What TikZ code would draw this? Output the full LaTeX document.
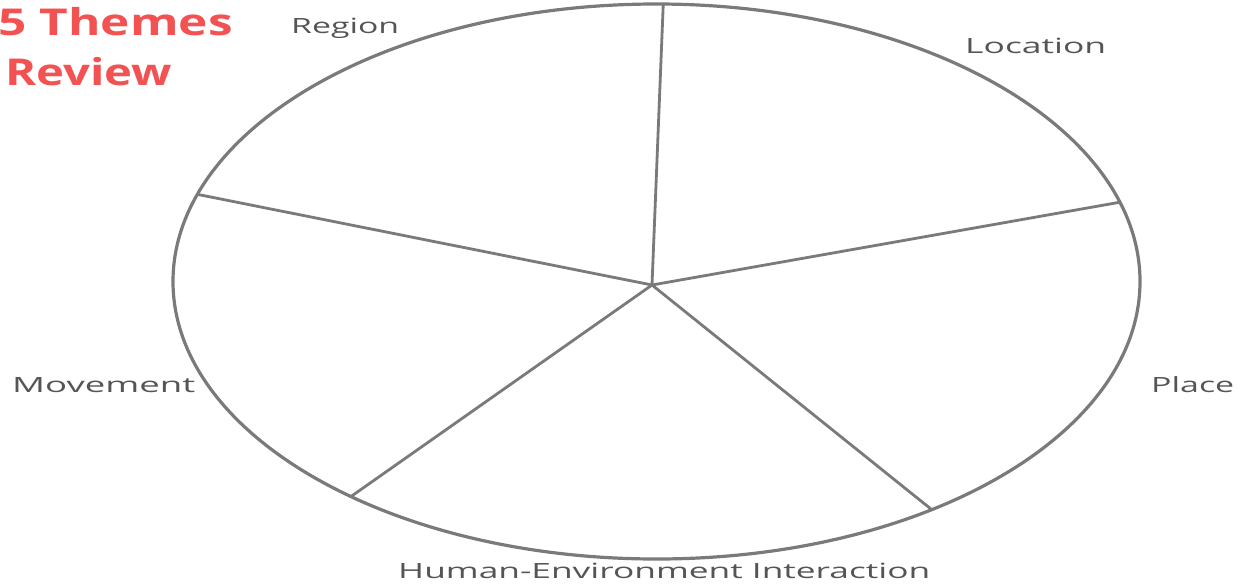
\documentclass[tikz,border=0pt]{standalone}
\usepackage{fontspec}
\usepackage{graphicx}
\usetikzlibrary{calc}
\setmainfont{Open Sans}
\definecolor{titlered}{RGB}{243,82,82}
\definecolor{labelgray}{RGB}{85,85,85}
\definecolor{linegray}{RGB}{122,122,122}
\newlength\fitlen
% scale #3 horizontally so that #2 would be #1 pt wide
\newcommand\fitx[3]{\settowidth\fitlen{#2}\pgfmathsetmacro\fitsc{#1/\fitlen}\scalebox{\fitsc}[1]{#3}}
\newcommand\fitw[2]{\fitx{#1}{#2}{#2}}
\tikzset{
  rim/.style={draw=linegray, line width=3.2pt},
  spoke/.style={draw=linegray, line width=2.8pt, line cap=round},
  lbl/.style={anchor=base west, inner sep=0pt, text=labelgray, font=\fontsize{21}{25}\selectfont},
  ttl/.style={anchor=base east, inner sep=0pt, text=titlered, font=\fontsize{37}{40}\selectfont\bfseries},
}
\begin{document}
\begin{tikzpicture}[x=1pt,y=-1pt]
\clip (0,0) rectangle (1245,587);
\fill[white] (0,0) rectangle (1245,587);
% ellipse
\coordinate (o) at (656.5,281.5);
\draw[rim] (o) ellipse [x radius=483.5, y radius=277.5];
% spokes
\coordinate (c) at (652,285);
\coordinate (pt) at ($(o)+({483.5*cos(-89.2)},{277.5*sin(-89.2)})$);
\coordinate (pr) at ($(o)+({483.5*cos(-16.6)},{277.5*sin(-16.6)})$);
\coordinate (plr) at ($(o)+({483.5*cos(55.3)},{277.5*sin(55.3)})$);
\coordinate (pll) at ($(o)+({483.5*cos(129.2)},{277.5*sin(129.2)})$);
\coordinate (pl) at ($(o)+({483.5*cos(198.3)},{277.5*sin(198.3)})$);
\draw[spoke] (c) -- (pt);
\draw[spoke] (c) -- (pr);
\draw[spoke] (c) -- (plr);
\draw[spoke] (c) -- (pll);
\draw[spoke] (c) -- (pl);
% labels
\node[lbl] (region) at (291,33) {\fitw{108}{Region}};
\node[lbl] (location) at (965,53) {\fitw{141}{Location}};
\node[lbl] (place) at (1151,392) {\fitw{83}{Place}};
\node[lbl] (movement) at (12,392) {\fitw{183}{Movement}};
\node[lbl] (hei) at (398,578) {\fitw{532}{Human-Environment Interaction}};
% title
\node[ttl] (title1) at (233,35) {\fitx{193}{Themes}{5 Themes}};
\node[ttl] (title2) at (172,85) {\fitx{184}{Themes}{Review}};
\end{tikzpicture}
\end{document}
